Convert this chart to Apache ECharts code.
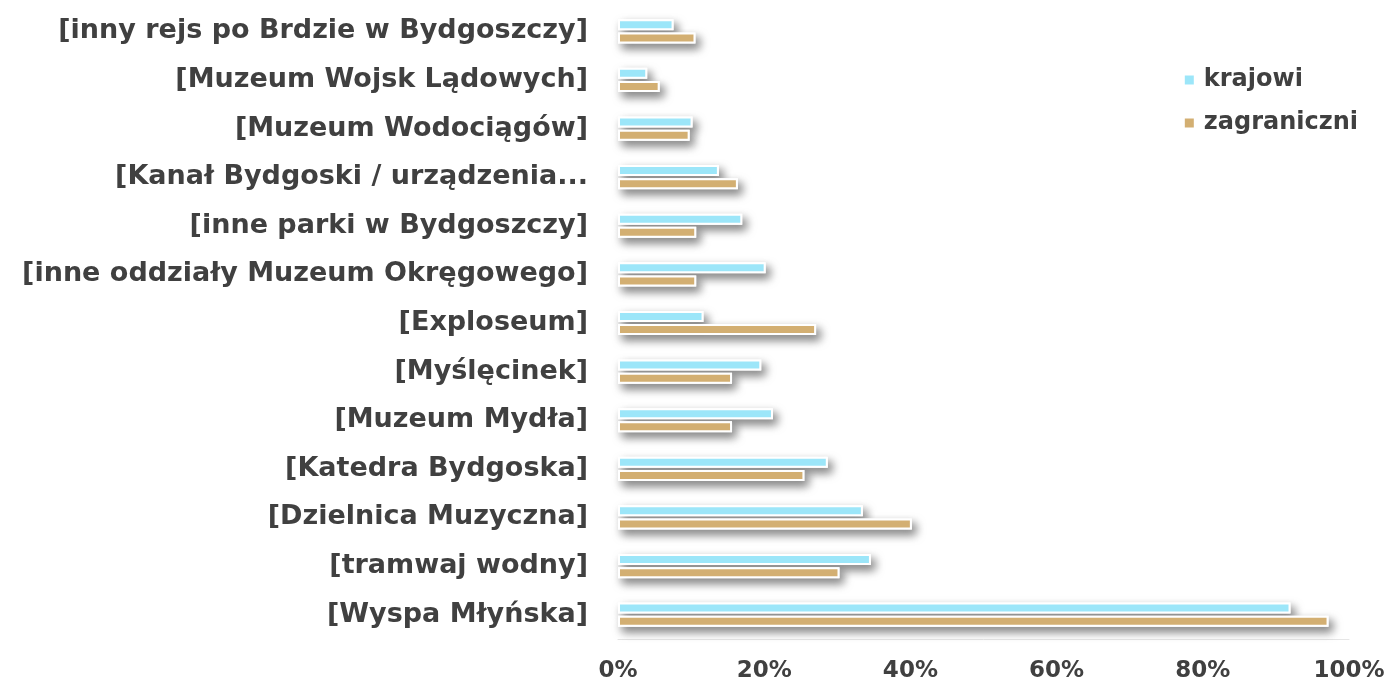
<!DOCTYPE html>
<html>
<head>
<meta charset="utf-8">
<script src="https://cdn.jsdelivr.net/npm/echarts@6/dist/echarts.min.js"></script>
<style>
  html, body { margin: 0; padding: 0; background: #fff; }
  #chart { width: 1389px; height: 684px; }
</style>
</head>
<body>
<div id="chart"></div>
<script>
// kategorie od góry do dołu
var categories = [
    '[inny rejs po Brdzie w Bydgoszczy]',
    '[Muzeum Wojsk Lądowych]',
    '[Muzeum Wodociągów]',
    '[Kanał Bydgoski / urządzenia...',
    '[inne parki w Bydgoszczy]',
    '[inne oddziały Muzeum Okręgowego]',
    '[Exploseum]',
    '[Myślęcinek]',
    '[Muzeum Mydła]',
    '[Katedra Bydgoska]',
    '[Dzielnica Muzyczna]',
    '[tramwaj wodny]',
    '[Wyspa Młyńska]'
]
var krajowi = [7.6, 4.0, 10.2, 13.8, 17.0, 20.2, 11.7, 19.6, 21.2, 28.7, 33.5, 34.6, 92.0]
var zagraniczni = [10.6, 5.7, 9.8, 16.4, 10.7, 10.7, 27.1, 15.6, 15.6, 25.5, 40.2, 30.3, 97.2]
var xTicks = [0, 20, 40, 60, 80, 100]

var fontName = 'DejaVu Sans'
var textColor = '#404040'
var cyan = '#9ce6f9'
var tan = '#d3af72'

// słupek: biała ramka, cień tylko na warstwie spodniej
function bar(name, data, color, axis, withShadow) {
    var style = { color: color, borderColor: '#ffffff', borderWidth: 2 }
    if (withShadow) {
        style.shadowColor = 'rgba(0,0,0,0.5)'
        style.shadowBlur = 10
        style.shadowOffsetX = 4
        style.shadowOffsetY = 5
    }
    return {
        name: name,
        type: 'bar',
        yAxisIndex: axis,
        barWidth: 11,
        barGap: '20%',
        data: data,
        silent: true,
        itemStyle: style
    }
}

function catAxis(show) {
    return {
        type: 'category',
        inverse: true,
        data: categories,
        show: show,
        axisLine: { show: false },
        axisTick: { show: false },
        axisLabel: {
            margin: 30,
            fontFamily: fontName,
            fontWeight: 'bold',
            fontSize: 27,
            color: textColor
        }
    }
}

var myChart = echarts.init(document.getElementById('chart'))
var option = {
    animation: false,
    textStyle: { fontFamily: fontName },
    grid: { left: 618, right: 40, top: 7, bottom: 45 },
    legend: {
        orient: 'vertical',
        right: 26,
        top: 63,
        itemWidth: 11,
        itemHeight: 11,
        itemGap: 19,
        icon: 'rect',
        textStyle: {
            fontFamily: fontName, fontWeight: 'bold', fontSize: 24, color: textColor,
            padding: [0, 0, 0, 4]
        },
        data: ['krajowi', 'zagraniczni']
    },
    xAxis: {
        type: 'value',
        min: xTicks[0],
        max: xTicks[xTicks.length - 1],
        interval: 20,
        axisLine: { show: true, lineStyle: { color: '#e6e6e6', width: 1 } },
        axisTick: { show: false },
        splitLine: { show: false },
        axisLabel: {
            margin: 21,
            fontFamily: fontName,
            fontWeight: 'bold',
            fontSize: 23,
            color: textColor,
            formatter: '{value}%'
        }
    },
    yAxis: [catAxis(true), catAxis(false)],
    series: [
        bar('krajowi', krajowi, cyan, 1, true),
        bar('zagraniczni', zagraniczni, tan, 1, true),
        bar('krajowi', krajowi, cyan, 0, false),
        bar('zagraniczni', zagraniczni, tan, 0, false)
    ]
}
myChart.setOption(option)
</script>
</body>
</html>
